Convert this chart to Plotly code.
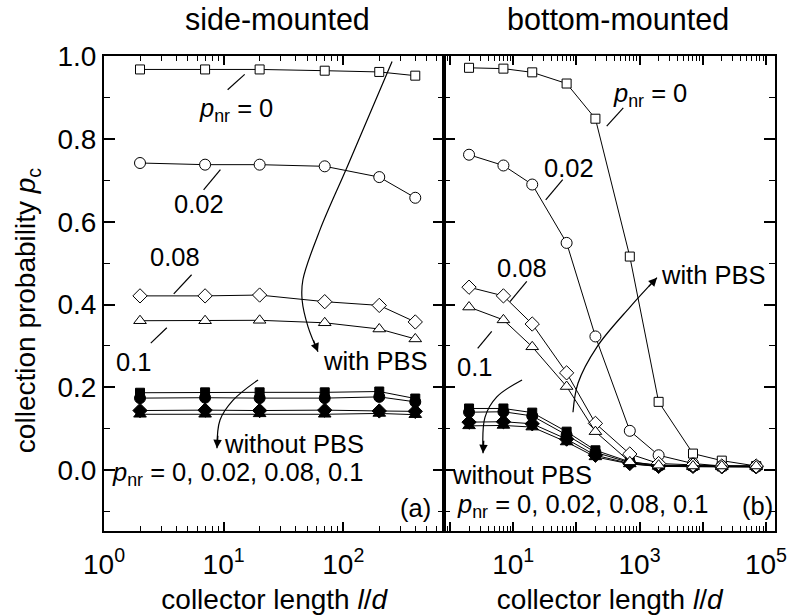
import numpy as np
import plotly.graph_objects as go

# ---- data: collection probability vs collector length l/d ----
ld_side = [2, 7, 20, 70, 200, 400]
ld_bottom = [2, 7, 20, 70, 200, 700, 2000, 7000, 20000, 70000]

# side-mounted collector, with PBS
side_pbs_p0 = [0.968, 0.968, 0.968, 0.965, 0.962, 0.953]
side_pbs_p002 = [0.742, 0.738, 0.738, 0.734, 0.708, 0.658]
side_pbs_p008 = [0.421, 0.421, 0.423, 0.407, 0.398, 0.358]
side_pbs_p01 = [0.361, 0.361, 0.362, 0.356, 0.341, 0.317]
# side-mounted collector, without PBS
side_nopbs_p0 = [0.187, 0.188, 0.188, 0.188, 0.190, 0.173]
side_nopbs_p002 = [0.174, 0.175, 0.174, 0.174, 0.177, 0.165]
side_nopbs_p008 = [0.144, 0.145, 0.144, 0.145, 0.143, 0.142]
side_nopbs_p01 = [0.135, 0.135, 0.136, 0.135, 0.137, 0.134]

# bottom-mounted collector, with PBS
bot_pbs_p0 = [0.972, 0.970, 0.961, 0.934, 0.849, 0.516, 0.165, 0.040, 0.023, 0.010]
bot_pbs_p002 = [0.762, 0.736, 0.690, 0.549, 0.323, 0.095, 0.036, 0.016, 0.010, 0.010]
bot_pbs_p008 = [0.442, 0.421, 0.353, 0.235, 0.113, 0.039, 0.016, 0.012, 0.010, 0.010]
bot_pbs_p01 = [0.394, 0.363, 0.298, 0.202, 0.093, 0.020, 0.012, 0.010, 0.010, 0.010]
# bottom-mounted collector, without PBS
bot_nopbs_p0 = [0.149, 0.149, 0.139, 0.093, 0.048, 0.020, 0.011, 0.010, 0.009, 0.009]
bot_nopbs_p002 = [0.140, 0.141, 0.131, 0.085, 0.043, 0.018, 0.010, 0.009, 0.009, 0.008]
bot_nopbs_p008 = [0.116, 0.117, 0.112, 0.075, 0.036, 0.016, 0.009, 0.009, 0.008, 0.008]
bot_nopbs_p01 = [0.107, 0.108, 0.104, 0.068, 0.032, 0.015, 0.009, 0.008, 0.008, 0.008]

y_ticks = [0.0, 0.2, 0.4, 0.6, 0.8, 1.0]

FONT = "Liberation Sans, Arial, sans-serif"
BLACK = "#000000"
LABEL_SIZE = 25.5

MARKERS = [("square", 9), ("circle", 11), ("diamond", 11), ("triangle-up", 11)]

fig = go.Figure()


def add_series(x, y, symbol, size, filled, xa, ya):
    fig.add_trace(go.Scatter(
        x=x, y=y, mode="lines+markers", xaxis=xa, yaxis=ya,
        line=dict(color=BLACK, width=1),
        marker=dict(symbol=symbol, size=size,
                    color=BLACK if filled else "white",
                    line=dict(color=BLACK, width=1)),
        showlegend=False, hoverinfo="skip"))


side_open = [side_pbs_p0, side_pbs_p002, side_pbs_p008, side_pbs_p01]
side_fill = [side_nopbs_p0, side_nopbs_p002, side_nopbs_p008, side_nopbs_p01]
bot_open = [bot_pbs_p0, bot_pbs_p002, bot_pbs_p008, bot_pbs_p01]
bot_fill = [bot_nopbs_p0, bot_nopbs_p002, bot_nopbs_p008, bot_nopbs_p01]

for ys, (sym, sz) in zip(side_fill, MARKERS):
    add_series(ld_side, ys, sym, sz, True, "x", "y")
for ys, (sym, sz) in zip(side_open, MARKERS):
    add_series(ld_side, ys, sym, sz, False, "x", "y")
for ys, (sym, sz) in zip(bot_fill, MARKERS):
    add_series(ld_bottom, ys, sym, sz, True, "x2", "y2")
for ys, (sym, sz) in zip(bot_open, MARKERS):
    add_series(ld_bottom, ys, sym, sz, False, "x2", "y2")


def guide(pts, xa, ya, spline=False):
    xs, ys = zip(*pts)
    fig.add_trace(go.Scatter(
        x=xs, y=ys, mode="lines", xaxis=xa, yaxis=ya,
        line=dict(color=BLACK, width=1.2, shape="spline" if spline else "linear"),
        showlegend=False, hoverinfo="skip"))


def label(text, xv, yv, xa, ya, size=LABEL_SIZE):
    fig.add_annotation(text=text, x=np.log10(xv), y=yv, xref=xa, yref=ya,
                       showarrow=False, font=dict(family=FONT, size=size, color=BLACK),
                       xanchor="center", yanchor="middle")


def arrowhead(xv, yv, dx, dy, xa, ya):
    n = np.hypot(dx, dy)
    fig.add_annotation(text="", x=np.log10(xv), y=yv, xref=xa, yref=ya,
                       showarrow=True, arrowhead=2, arrowsize=1.3, arrowwidth=1.3,
                       arrowcolor=BLACK, ax=-dx / n * 14, ay=-dy / n * 14, standoff=0)


PNR = "<i>p</i><sub>nr</sub>"

# side-mounted panel: series labels with leader lines
label(PNR + " = 0", 12.8, 0.871, "x", "y")
guide([(10.8, 0.919), (15.0, 0.956)], "x", "y")
label("0.02", 6.2, 0.644, "x", "y")
guide([(6.8, 0.677), (9.4, 0.726)], "x", "y")
label("0.08", 3.9, 0.515, "x", "y")
guide([(3.83, 0.426), (5.4, 0.472)], "x", "y")
label("0.1", 1.78, 0.261, "x", "y")
guide([(2.46, 0.307), (3.35, 0.344)], "x", "y")

# side-mounted panel: curved arrows
guide([(256, 0.987), (108, 0.733), (64, 0.581), (46, 0.460), (45.3, 0.411),
       (50.8, 0.346), (61.5, 0.286)], "x", "y", spline=True)
arrowhead(61.5, 0.286, 10, 25, "x", "y")
label("with PBS", 185, 0.264, "x", "y")

guide([(19.4, 0.218), (12.0, 0.169), (9.33, 0.121), (8.8, 0.053)], "x", "y", spline=True)
arrowhead(8.8, 0.053, -2, 28, "x", "y")
label("without PBS", 39, 0.063, "x", "y")
label(PNR + " = 0, 0.02, 0.08, 0.1", 13.3, -0.010, "x", "y")
label("(a)", 405, -0.092, "x", "y")

# bottom-mounted panel: series labels with leader lines
label(PNR + " = 0", 1460, 0.907, "x2", "y2")
guide([(302, 0.831), (552, 0.875)], "x2", "y2")
label("0.02", 76, 0.731, "x2", "y2")
guide([(32.7, 0.653), (60.7, 0.702)], "x2", "y2")
label("0.08", 13.8, 0.489, "x2", "y2")
guide([(8.9, 0.407), (16.4, 0.456)], "x2", "y2")
label("0.1", 2.4, 0.249, "x2", "y2")
guide([(2.74, 0.294), (4.57, 0.335)], "x2", "y2")

# bottom-mounted panel: curved arrows
guide([(88.3, 0.140), (106, 0.210), (212, 0.298), (705, 0.394), (1885, 0.465)],
      "x2", "y2", spline=True)
arrowhead(1885, 0.465, 27, -29, "x2", "y2")
label("with PBS", 14500, 0.472, "x2", "y2")

guide([(13.8, 0.218), (5.5, 0.177), (3.58, 0.128), (3.33, 0.041)], "x2", "y2", spline=True)
arrowhead(3.33, 0.041, -2, 36, "x2", "y2")
label("without PBS", 13.8, -0.012, "x2", "y2")
label(PNR + " = 0, 0.02, 0.08, 0.1", 127, -0.087, "x2", "y2")
label("(b)", 74700, -0.087, "x2", "y2")

# panel titles
for xa, title, dx in [("x", "side-mounted", 3), ("x2", "bottom-mounted", 8)]:
    fig.add_annotation(text=title, xref=xa + " domain", yref="paper", x=0.5, y=1,
                       xshift=dx, yshift=37, showarrow=False,
                       xanchor="center", yanchor="middle",
                       font=dict(family=FONT, size=30.5, color=BLACK))

# shared y-axis title, placed a little below the middle of the plot height
fig.add_annotation(text="collection probability <i>p</i><sub>c</sub>",
                   xref="paper", yref="paper", x=0, y=0.465, xshift=-77,
                   textangle=-90, showarrow=False, xanchor="center", yanchor="middle",
                   font=dict(family=FONT, size=28, color=BLACK))


def log_minor(lo, hi):
    return [m * 10 ** e for e in range(lo, hi) for m in range(2, 10)]


axis_common = dict(
    showline=True, linewidth=2, linecolor=BLACK, mirror="ticks",
    ticks="inside", tickwidth=1.5, tickcolor=BLACK,
    showgrid=False, zeroline=False, automargin=False,
    ticklabeloverflow="allow",
    tickfont=dict(family=FONT, size=28, color=BLACK),
)

x_title = dict(text="collector length <i>l</i>/<i>d</i>",
               font=dict(family=FONT, size=28, color=BLACK), standoff=12)

split = 0.5072

fig.update_layout(
    width=787, height=615,
    margin=dict(l=104, r=12, t=56, b=84, autoexpand=False),
    paper_bgcolor="white", plot_bgcolor="white",
    font=dict(family=FONT, color=BLACK),
    xaxis=dict(axis_common, type="log", domain=[0, split], range=[0, 2.845],
               anchor="y", ticklen=9, ticklabelstandoff=7,
               tickvals=[1, 10, 100],
               ticktext=["10<sup>0</sup>", "10<sup>1</sup>", "10<sup>2</sup>"],
               minor=dict(tickmode="array", tickvals=log_minor(0, 3), ticks="inside",
                          ticklen=5, tickwidth=1.2, tickcolor=BLACK, showgrid=False),
               title=x_title),
    xaxis2=dict(axis_common, type="log", domain=[split, 1], range=[-0.09, 5.143],
                anchor="y2", ticklen=9, ticklabelstandoff=7,
                tickvals=[1, 10, 100, 1e3, 1e4, 1e5],
                ticktext=["", "10<sup>1</sup>", "", "10<sup>3</sup>", "", "10<sup>5</sup>"],
                minor=dict(tickmode="array", tickvals=log_minor(-1, 6), ticks="inside",
                           ticklen=5, tickwidth=1.2, tickcolor=BLACK, showgrid=False),
                title=x_title),
    yaxis=dict(axis_common, domain=[0, 1], range=[-0.147, 1.0005], anchor="x",
               tickvals=y_ticks, tickformat=".1f", ticklen=11,
               minor=dict(dtick=0.1, tick0=0, ticks="inside", ticklen=6,
                          tickwidth=1.2, tickcolor=BLACK, showgrid=False)),
    yaxis2=dict(axis_common, domain=[0, 1], range=[-0.147, 1.0005], anchor="x2",
                matches="y", tickvals=y_ticks, showticklabels=False, ticklen=11,
                minor=dict(dtick=0.1, tick0=0, ticks="inside", ticklen=6,
                           tickwidth=1.2, tickcolor=BLACK, showgrid=False)),
)

fig.write_html("out.html")
